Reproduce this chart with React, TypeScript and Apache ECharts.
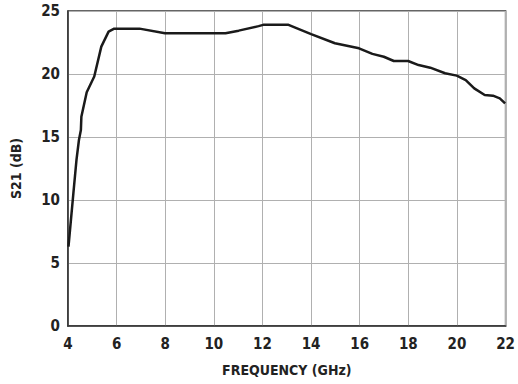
import React, { useEffect, useRef } from "react";
import * as echarts from "echarts";

const freqGHz = [4.02, 4.22, 4.35, 4.45, 4.53, 4.55, 4.77, 5.08, 5.37, 5.67, 5.9, 6.94, 7.99, 9.05, 10.48, 11.02, 11.84, 12.03, 13.07, 14.0, 14.98, 15.97, 16.52, 16.99, 17.4, 17.99, 18.42, 18.9, 19.51, 19.99, 20.36, 20.71, 21.14, 21.48, 21.76, 21.98];
const s21dB = [6.3, 10.5, 13.2, 14.76, 15.56, 16.6, 18.55, 19.8, 22.17, 23.36, 23.6, 23.6, 23.23, 23.23, 23.23, 23.44, 23.8, 23.9, 23.9, 23.17, 22.44, 22.04, 21.6, 21.37, 21.03, 21.03, 20.71, 20.5, 20.06, 19.87, 19.52, 18.86, 18.33, 18.28, 18.07, 17.67];
const xTicks = [4, 6, 8, 10, 12, 14, 16, 18, 20, 22];
const yTicks = [0, 5, 10, 15, 20, 25];

const FONT = "'DejaVu Sans Condensed', 'Liberation Sans Narrow', 'Roboto', sans-serif";

export default function App() {
  const ref = useRef<HTMLDivElement>(null);
  useEffect(() => {
    if (!ref.current) return;
    const chart = echarts.init(ref.current, null, { renderer: "svg" });
    const label = { fontFamily: FONT, fontWeight: "bold" as const, fontSize: 15, color: "#222" };
    chart.setOption({
      animation: false,
      backgroundColor: "#fff",
      grid: { left: 68, right: 9, top: 11, bottom: 58, show: true, borderColor: "#333", borderWidth: 1.5 },
      xAxis: {
        type: "value",
        min: xTicks[0],
        max: xTicks[xTicks.length - 1],
        interval: 2,
        name: "FREQUENCY (GHz)",
        nameLocation: "middle",
        nameGap: 37,
        nameTextStyle: { ...label, fontSize: 14, verticalAlign: "top" },
        axisLine: { lineStyle: { color: "#333", width: 1.5 } },
        axisTick: { show: false },
        axisLabel: { ...label, margin: 10 },
        splitLine: { show: true, lineStyle: { color: "#b0b0b0", width: 1 } },
      },
      yAxis: {
        type: "value",
        min: yTicks[0],
        max: yTicks[yTicks.length - 1],
        interval: 5,
        name: "S21 (dB)",
        nameLocation: "middle",
        nameGap: 45,
        nameTextStyle: { ...label, fontSize: 14 },
        axisLine: { show: true, lineStyle: { color: "#333", width: 1.5 } },
        axisTick: { show: false },
        axisLabel: { ...label, margin: 8 },
        splitLine: { show: true, lineStyle: { color: "#b0b0b0", width: 1 } },
      },
      series: [
        {
          type: "line",
          data: freqGHz.map((f, i) => [f, s21dB[i]]),
          showSymbol: false,
          lineStyle: { color: "#1a1a1a", width: 2.5 },
        },
      ],
    });
    return () => chart.dispose();
  }, []);
  return (
    <div
      ref={ref}
      style={{ position: "fixed", left: 0, top: 0, width: 518, height: 384 }}
    />
  );
}
